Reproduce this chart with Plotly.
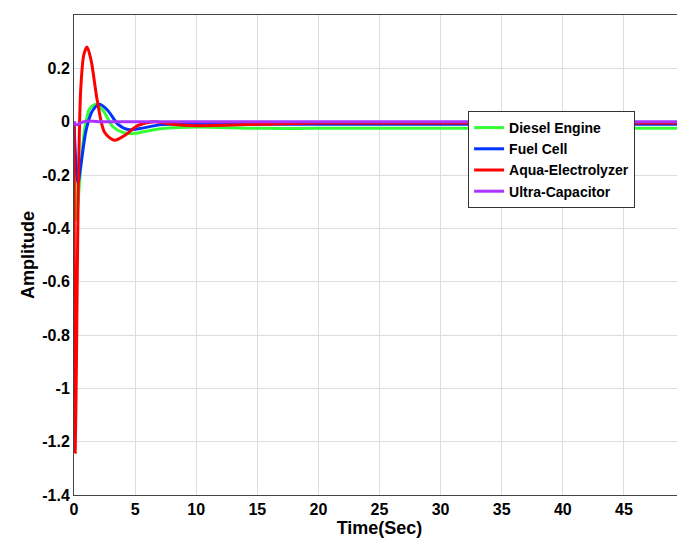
import plotly.graph_objects as go

t_de = [0, 0.1, 0.2, 0.5, 0.9, 1.3, 1.8, 2.4, 3.2, 4.0, 4.8, 6, 7.5, 10, 15, 20, 30, 40, 50]
v_de = [0, -0.25, -0.37, -0.2, -0.02, 0.05, 0.065, 0.04, -0.02, -0.04, -0.045, -0.035, -0.025, -0.02, -0.025, -0.025, -0.025, -0.025, -0.025]
t_fc = [0, 0.15, 0.33, 0.6, 1.0, 1.5, 2.1, 2.8, 3.6, 4.5, 5.5, 7, 9, 12, 20, 30, 40, 50]
v_fc = [0, -0.15, -0.23, -0.15, -0.03, 0.04, 0.065, 0.04, -0.01, -0.03, -0.025, -0.012, -0.008, -0.01, -0.01, -0.01, -0.01, -0.01]
t_ae = [0, 0.04, 0.1, 0.2, 0.35, 0.55, 0.8, 1.07, 1.4, 1.9, 2.5, 3.3, 4.2, 5.2, 6.5, 8, 10, 15, 20, 30, 40, 50]
v_ae = [0, -0.8, -1.24, -0.9, -0.25, 0.12, 0.25, 0.28, 0.23, 0.08, -0.04, -0.07, -0.05, -0.015, 0, -0.01, -0.015, -0.01, -0.005, -0.005, -0.005, -0.005]
t_uc = [0, 0.15, 0.5, 1.0, 2, 5, 10, 50]
v_uc = [0, -0.012, -0.005, 0.002, 0, 0, 0, 0]

x_ticks = [0, 5, 10, 15, 20, 25, 30, 35, 40, 45, 50]
y_ticks = [0.4, 0.2, 0, -0.2, -0.4, -0.6, -0.8, -1, -1.2, -1.4]
y_labels = ["0.4", "0.2", "0", "-0.2", "-0.4", "-0.6", "-0.8", "-1", "-1.2", "-1.4"]

fig = go.Figure()
for t, v, name, c in [(t_de, v_de, "Diesel Engine", "#33ff33"),
                      (t_fc, v_fc, "Fuel Cell", "#0033ff"),
                      (t_ae, v_ae, "Aqua-Electrolyzer", "#ff0000"),
                      (t_uc, v_uc, "Ultra-Capacitor", "#aa33ff")]:
    fig.add_trace(go.Scatter(x=t, y=v, name="<b>" + name + "</b>", mode="lines",
                             line=dict(color=c, width=3, shape="spline", smoothing=0.8)))

ax = dict(showline=True, linecolor="#444", linewidth=1, mirror=True, showgrid=True,
          gridcolor="#dddddd", zeroline=False, ticks="", tickfont=dict(size=16, family="Arial", color="black"))
fig.update_layout(
    width=685, height=545, plot_bgcolor="white", paper_bgcolor="white",
    margin=dict(l=66, r=8, t=7, b=58),
    font=dict(family="Arial", color="black"),
    xaxis=dict(range=[0, 50], tickvals=x_ticks, ticktext=["<b>%d</b>" % v for v in x_ticks],
               title=dict(text="<b>Time(Sec)</b>", font=dict(size=18), standoff=4), **ax),
    yaxis=dict(range=[-1.4, 0.4], tickvals=y_ticks, ticktext=["<b>%s</b>" % s for s in y_labels],
               title=dict(text="<b>Amplitude</b>", font=dict(size=18), standoff=2), **ax),
    legend=dict(x=0.645, y=0.8, xanchor="left", yanchor="top", bordercolor="#333", borderwidth=1,
                bgcolor="white", font=dict(size=14), tracegroupgap=0),
)
fig.write_html("out.html")
